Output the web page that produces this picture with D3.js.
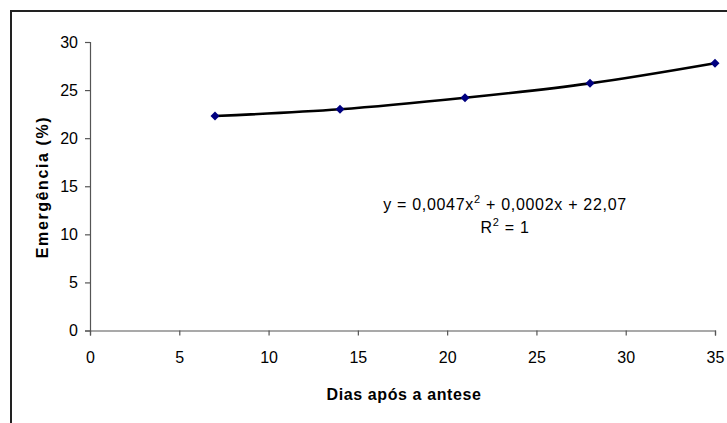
<!DOCTYPE html>
<html lang="pt">
<head>
  <meta charset="UTF-8">
  <title>Emergência x Dias após a antese</title>
  <script src="https://d3js.org/d3.v7.min.js"></script>
  <style>
    body { margin: 0; background: #fff; }
    svg { display: block; font-family: "Liberation Sans", Arial, sans-serif; }
  </style>
</head>
<body>
  <svg width="727" height="423"></svg>

  <script>
  // values
  const dias = [7, 14, 21, 28, 35];
  const emergencia = [22.3, 23.0, 24.2, 25.7, 27.8];
  const xTicks = [0, 5, 10, 15, 20, 25, 30, 35];
  const yTicks = [0, 5, 10, 15, 20, 25, 30];

  const svg = d3.select("svg");

  // outer chart frame (runs off the right and bottom edges)
  svg.append("rect")
    .attr("x", 11).attr("y", 11)
    .attr("width", 730).attr("height", 430)
    .attr("fill", "none")
    .attr("stroke", "#222")
    .attr("stroke-width", 2);

  const x = d3.scaleLinear().domain([0, 35]).range([90, 715]);
  const y = d3.scaleLinear().domain([0, 30]).range([330.5, 42]);

  const xAxis = svg.append("g")
    .attr("transform", "translate(0,330.5)")
    .call(d3.axisBottom(x).tickValues(xTicks).tickSize(5).tickPadding(14).tickFormat(d3.format("d")));

  const yAxis = svg.append("g")
    .attr("transform", "translate(90,0)")
    .call(d3.axisLeft(y).tickValues(yTicks).tickSize(5).tickPadding(7).tickFormat(d3.format("d")));

  [xAxis, yAxis].forEach(ax => {
    ax.select(".domain").attr("stroke", "#555").attr("stroke-width", 1.2);
    ax.selectAll(".tick line").attr("stroke", "#555").attr("stroke-width", 1.2);
    ax.selectAll(".tick text")
      .attr("fill", "#000")
      .style("font-size", "16px")
      .style("font-family", "'Liberation Sans', Arial, sans-serif");
  });
  xAxis.selectAll(".tick text").attr("dy", "0.85em");

  // trendline through the points
  const pts = dias.map((d, i) => [d, emergencia[i]]);
  const line = d3.line()
    .x(d => x(d[0]))
    .y(d => y(d[1]))
    .curve(d3.curveNatural);

  svg.append("path")
    .datum(pts)
    .attr("d", line)
    .attr("fill", "none")
    .attr("stroke", "#000")
    .attr("stroke-width", 2.6);

  svg.selectAll(".pt")
    .data(pts)
    .enter().append("path")
    .attr("class", "pt")
    .attr("transform", d => `translate(${x(d[0])},${y(d[1])})`)
    .attr("d", "M0,-4.5L4.5,0L0,4.5L-4.5,0Z")
    .attr("fill", "#000080");

  // equation
  const eq = svg.append("text")
    .attr("x", 505).attr("y", 210)
    .attr("text-anchor", "middle")
    .style("font-size", "16px")
    .style("letter-spacing", "0.7px")
    .attr("fill", "#000");
  eq.append("tspan").text("y = 0,0047x");
  eq.append("tspan").attr("dy", -7).style("font-size", "11px").text("2");
  eq.append("tspan").attr("dy", 7).text(" + 0,0002x + 22,07");

  const r2 = svg.append("text")
    .attr("x", 505).attr("y", 233)
    .attr("text-anchor", "middle")
    .style("font-size", "16px")
    .style("letter-spacing", "0.7px")
    .attr("fill", "#000");
  r2.append("tspan").text("R");
  r2.append("tspan").attr("dy", -7).style("font-size", "11px").text("2");
  r2.append("tspan").attr("dy", 7).text(" = 1");

  // axis titles
  svg.append("text")
    .attr("x", 404).attr("y", 400)
    .attr("text-anchor", "middle")
    .style("font-size", "16px")
    .style("font-weight", "bold")
    .style("letter-spacing", "0.6px")
    .text("Dias após a antese");

  svg.append("text")
    .attr("transform", "translate(48,187) rotate(-90)")
    .attr("text-anchor", "middle")
    .style("font-size", "16px")
    .style("font-weight", "bold")
    .style("letter-spacing", "1.6px")
    .text("Emergência (%)");
  </script>
</body>
</html>
